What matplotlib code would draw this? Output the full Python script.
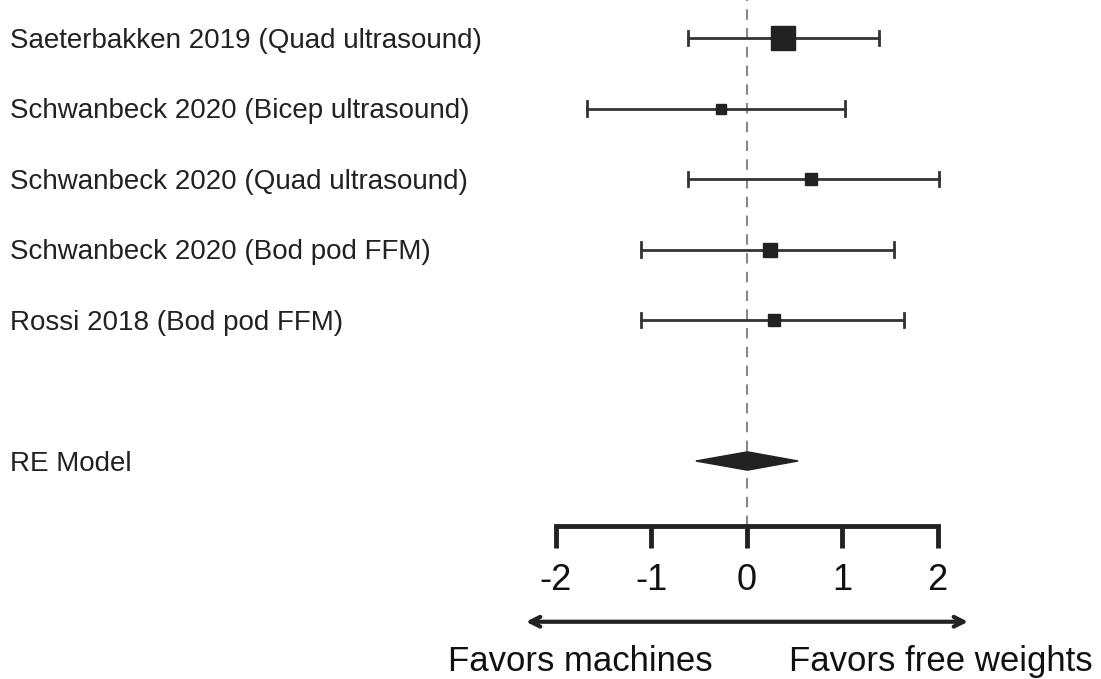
import numpy as np
import matplotlib.pyplot as plt
from matplotlib.patches import Polygon

plt.rcParams['font.family'] = ['Liberation Sans', 'DejaVu Sans']

# --- data ---
studies = [
    "Saeterbakken 2019 (Quad ultrasound)",
    "Schwanbeck 2020 (Bicep ultrasound)",
    "Schwanbeck 2020 (Quad ultrasound)",
    "Schwanbeck 2020 (Bod pod FFM)",
    "Rossi 2018 (Bod pod FFM)",
]
effect = [0.38, -0.27, 0.68, 0.25, 0.29]
ci_low = [-0.61, -1.67, -0.61, -1.10, -1.10]
ci_high = [1.39, 1.03, 2.02, 1.54, 1.65]
weight = [2.4, 1.0, 1.2, 1.4, 1.2]

re_est, re_low, re_high = 0.01, -0.53, 0.54
ticks = [-2, -1, 0, 1, 2]

# --- figure, one axes filling everything ---
fig = plt.figure(figsize=(11.01, 6.79), dpi=100)
ax = fig.add_axes([0, 0, 1, 1])
ax.set_xlim(-7.817, 3.712)
ax.set_ylim(-2.092, 7.539)
ax.axis("off")

rows = np.arange(len(studies) + 2, 2, -1)  # 7..3
re_row = 1
ink = "#222222"
txt_dy = -0.04  # labels sit a touch below the bar line

# reference line at zero
ax.plot([0, 0], [0.078, 7.6], color="#888888", lw=1.5, ls=(0, (5, 4)), zorder=1)

for y, name, e, lo, hi, w in zip(rows, studies, effect, ci_low, ci_high, weight):
    ax.plot([lo, hi], [y, y], color="#333333", lw=2, zorder=2)
    for xc in (lo, hi):
        ax.plot([xc, xc], [y - 0.105, y + 0.105], color="#333333", lw=2, zorder=2)
    ax.plot(e, y, marker="s", ms=7.2 * w, color=ink, mec=ink, zorder=3)
    ax.text(-7.71, y + txt_dy, name, ha="left", va="center", fontsize=20, color="#222222")

# summary diamond
h = 0.13
ax.add_patch(Polygon([[re_low, re_row], [re_est, re_row + h], [re_high, re_row],
                      [re_est, re_row - h]], closed=True, color=ink, zorder=3))
ax.text(-7.71, re_row + txt_dy, "RE Model", ha="left", va="center", fontsize=20, color="#222222")

# hand-drawn x axis
ax_y = 0.078
ax.plot([ticks[0], ticks[-1]], [ax_y, ax_y], color=ink, lw=3.5, solid_capstyle="projecting")
for t in ticks:
    ax.plot([t, t], [ax_y, ax_y - 0.31], color=ink, lw=3.5, solid_capstyle="butt")
    ax.text(t, -0.69, str(t), ha="center", va="center", fontsize=26, color="#111111")

# direction arrow and labels
ax.annotate("", xy=(-2.31, -1.28), xytext=(2.32, -1.28),
            arrowprops=dict(arrowstyle="<->,head_length=0.7,head_width=0.35",
                            color=ink, lw=3, shrinkA=0, shrinkB=0))
ax.text(-1.74, -1.85, "Favors machines", ha="center", va="center", fontsize=25, color="#111111")
ax.text(2.03, -1.85, "Favors free weights", ha="center", va="center", fontsize=25, color="#111111")

fig.savefig("out.png", dpi=100)
